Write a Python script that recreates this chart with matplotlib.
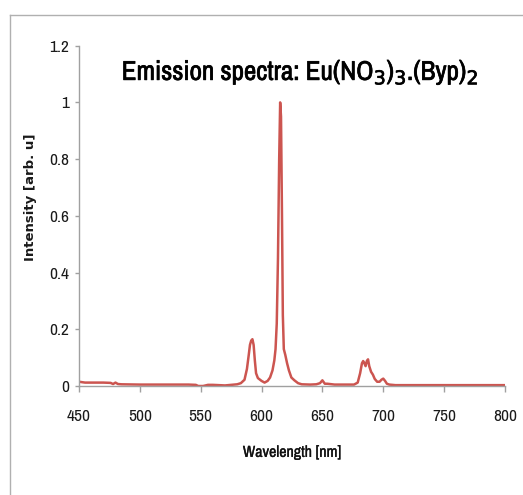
import matplotlib
matplotlib.use("Agg")
import matplotlib.pyplot as plt
import matplotlib.patheffects as pe
from matplotlib import font_manager
from matplotlib.font_manager import FontProperties
from matplotlib.lines import Line2D

# Emission spectrum
wavelength = [450, 455, 460, 470, 476, 478, 480, 482, 485, 500, 520, 540, 546, 548,
              552, 556, 560, 570, 575, 580, 583, 586, 588, 589.5, 590.5, 591.5, 592.5,
              593.5, 594.5, 595.5, 597, 600, 602.5, 605, 607, 609, 610.5, 611.5, 612.5,
              613.5, 614.5, 615.3, 616, 616.8, 617.5, 618.3, 619.5, 621, 622.5, 624.5,
              627, 630, 633, 640, 645, 648, 650, 652, 654, 660, 670, 676, 679, 681,
              682.5, 683.5, 684.5, 685.5, 686.5, 687.5, 688.5, 690, 691.5, 693, 695,
              697, 698.5, 700, 701.5, 703, 705, 710, 720, 740, 760, 780, 800]
intensity = [0.015, 0.012, 0.012, 0.012, 0.011, 0.007, 0.012, 0.007, 0.006, 0.005, 0.005,
             0.005, 0.004, 0.0, 0.0, 0.004, 0.004, 0.002, 0.004, 0.006, 0.010, 0.022,
             0.060, 0.110, 0.145, 0.160, 0.165, 0.145, 0.090, 0.045, 0.028, 0.018, 0.012,
             0.018, 0.030, 0.055, 0.090, 0.130, 0.220, 0.450, 0.800, 1.000, 0.950, 0.600,
             0.250, 0.130, 0.110, 0.080, 0.055, 0.030, 0.020, 0.010, 0.006, 0.005, 0.006,
             0.010, 0.020, 0.008, 0.008, 0.005, 0.005, 0.005, 0.012, 0.045, 0.080, 0.088,
             0.080, 0.070, 0.088, 0.094, 0.070, 0.050, 0.040, 0.025, 0.015, 0.015, 0.022,
             0.026, 0.018, 0.008, 0.005, 0.003, 0.003, 0.003, 0.003, 0.003, 0.003]

x_ticks = [450, 500, 550, 600, 650, 700, 750, 800]
y_ticks = [0, 0.2, 0.4, 0.6, 0.8, 1.0, 1.2]
y_tick_labels = ["0", "0.2", "0.4", "0.6", "0.8", "1", "1.2"]


def pick_narrow():
    # look for a narrow / condensed face, otherwise fall back to Lato
    fonts = font_manager.fontManager.ttflist
    for f in fonts:
        if "Narrow" in f.name:
            return f.name, "normal"
    for f in fonts:
        if "Condensed" in f.name:
            return f.name, "normal"
    for f in fonts:
        if f.stretch in ("condensed", "semi-condensed") and f.name in ("DejaVu Sans", "Noto Sans", "Open Sans", "Roboto"):
            return f.name, "condensed"
    return "Lato", "normal"


narrow_name, narrow_stretch = pick_narrow()
tick_fp = FontProperties(family=narrow_name, stretch=narrow_stretch, size=12.5)
label_fp = FontProperties(family=narrow_name, stretch=narrow_stretch, size=11.5)
title_fp = FontProperties(family=narrow_name, stretch=narrow_stretch, weight="bold", size=19.5)

plt.rcParams["mathtext.fontset"] = "custom"
pattern = narrow_name + ":bold" + (":condensed" if narrow_stretch == "condensed" else "")
plt.rcParams["mathtext.rm"] = pattern
plt.rcParams["mathtext.default"] = "rm"

fig = plt.figure(figsize=(5.23, 4.95), dpi=100)
ax = fig.add_axes([0.151, 0.2202, 0.8145, 0.6875])

ax.plot(wavelength, intensity, color="#CC5550", linewidth=1.8)

ax.set_xlim(450, 800)
ax.set_ylim(0, 1.2)
ax.set_xticks(x_ticks)
ax.set_xticklabels([str(t) for t in x_ticks], fontproperties=tick_fp)
ax.set_yticks(y_ticks)
ax.set_yticklabels(y_tick_labels, fontproperties=tick_fp)

for side in ["top", "right"]:
    ax.spines[side].set_visible(False)
for side in ["left", "bottom"]:
    ax.spines[side].set_color("#A0A0A0")
    ax.spines[side].set_linewidth(1.0)
ax.tick_params(axis="both", colors="#A0A0A0", width=1.0, labelcolor="#1A1A1A")
ax.tick_params(axis="y", length=3, pad=4.3)
ax.tick_params(axis="x", length=4.5, pad=12)

ax.set_xlabel("Wavelength [nm]", fontproperties=label_fp, color="#111111",
              path_effects=[pe.withStroke(linewidth=0.2, foreground="#111111")])
ax.xaxis.set_label_coords(0.5, -0.173)
ax.set_ylabel("Intensity [arb. u]", fontsize=9.5, fontweight="bold", color="#1A1A1A")
ax.yaxis.set_label_coords(-0.099, 0.555)

fig.text(0.574, 1 - 80 / 495, r"Emission spectra: Eu(NO$_3$)$_3$.(Byp)$_2$",
         fontproperties=title_fp, ha="center", va="baseline",
         path_effects=[pe.withStroke(linewidth=0.5, foreground="black")])

# outer chart frame (only left and top edges are visible)
fig.add_artist(Line2D([10 / 523, 10 / 523], [0, 1 - 15 / 495], transform=fig.transFigure,
                      color="#B0B0B0", linewidth=1.0))
fig.add_artist(Line2D([10 / 523, 1], [1 - 15 / 495, 1 - 15 / 495], transform=fig.transFigure,
                      color="#B0B0B0", linewidth=1.0))

fig.savefig("out.png", dpi=100)
